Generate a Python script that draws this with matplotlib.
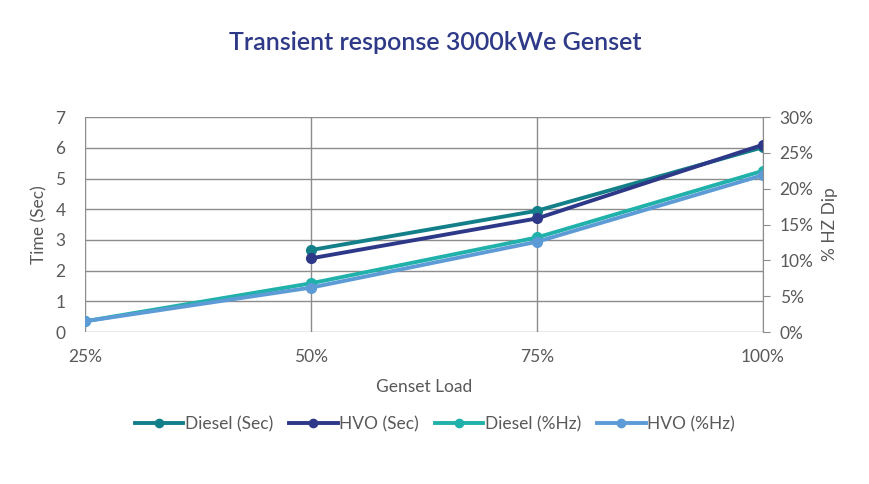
import numpy as np
import matplotlib.pyplot as plt

plt.rcParams['font.family'] = ['Lato', 'DejaVu Sans']

# Data
loads = ['25%', '50%', '75%', '100%']
diesel_sec = [np.nan, 2.67, 3.95, 6.02]
hvo_sec = [np.nan, 2.40, 3.70, 6.10]
diesel_hz = [1.5, 6.8, 13.2, 22.5]
hvo_hz = [1.5, 6.2, 12.6, 21.9]

c_diesel_sec = '#138089'
c_hvo_sec = '#2e3888'
c_diesel_hz = '#1fb1aa'
c_hvo_hz = '#5d9bd6'
grid_c = '#8c8c8c'
text_c = '#595959'

fig = plt.figure(figsize=(8.7, 4.84), dpi=100)
ax = fig.add_axes([0.0977, 0.314, 0.7793, 0.444])
ax2 = ax.twinx()

x = np.arange(len(loads))

ax.plot(x, diesel_sec, color=c_diesel_sec, lw=2.8, marker='o', ms=7, label='Diesel (Sec)')
ax.plot(x, hvo_sec, color=c_hvo_sec, lw=2.8, marker='o', ms=7, label='HVO (Sec)')
ax2.plot(x, diesel_hz, color=c_diesel_hz, lw=2.8, marker='o', ms=7, label='Diesel (%Hz)')
ax2.plot(x, hvo_hz, color=c_hvo_hz, lw=2.8, marker='o', ms=7, label='HVO (%Hz)')

ax.set_xlim(0, 3)
ax.set_ylim(0, 7)
ax2.set_ylim(0, 30)
ax.set_xticks(x)
ax.set_xticklabels(loads)
ax.set_yticks(range(0, 8))
ax2.set_yticks(range(0, 31, 5))
ax2.set_yticklabels([f'{v}%' for v in range(0, 31, 5)])

ax.grid(True, color=grid_c, lw=1)
ax.set_axisbelow(True)
for a in (ax, ax2):
    for s in ['top', 'left', 'bottom']:
        a.spines[s].set_visible(False)
ax.spines['right'].set_visible(False)
ax2.spines['right'].set_color(grid_c)

ax.tick_params(axis='y', length=0, pad=14, labelsize=12.5, labelcolor=text_c)
ax.tick_params(axis='x', length=0, pad=12, labelsize=12.5, labelcolor=text_c)
ax2.tick_params(axis='y', length=5, color=grid_c, pad=7, labelsize=12.5, labelcolor=text_c)

ax.set_ylabel('Time (Sec)', fontsize=12.5, color=text_c, labelpad=6)
ax2.set_ylabel('% HZ Dip', fontsize=12.5, color=text_c, labelpad=6)
ax.set_xlabel('Genset Load', fontsize=12.5, color=text_c, labelpad=10)

fig.suptitle('Transient response 3000kWe Genset', x=0.5, y=0.935, fontsize=18,
             color='#2e3a88', fontweight='semibold')

h1, l1 = ax.get_legend_handles_labels()
h2, l2 = ax2.get_legend_handles_labels()
leg = fig.legend(h1 + h2, l1 + l2, loc='center', bbox_to_anchor=(0.5, 0.124), ncol=4,
                 frameon=False, fontsize=12.5, labelcolor=text_c, handlelength=2.8,
                 handletextpad=0.1, columnspacing=0.9, markerscale=0.85)

fig.savefig('out.png', dpi=100)
